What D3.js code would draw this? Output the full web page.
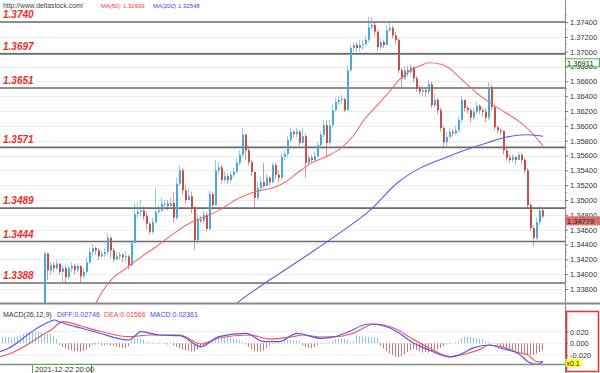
<!DOCTYPE html>
<html>
<head>
<meta charset="utf-8">
<script src="https://cdn.jsdelivr.net/npm/d3@7"></script>
<style>
  body { margin: 0; background: #fff; }
  svg { display: block; font-family: "Liberation Sans", Arial, sans-serif; }
</style>
</head>
<body>
<div id="chart"></div>
<script>

// hourly candles (open = previous close)
var firstOpen = 1.3358;
var closes = [
  1.3428,1.3405,1.3412,1.3408,1.3414,1.3403,1.3408,1.3396,1.3408,1.3411,
  1.3406,1.3411,1.3397,1.3403,1.3416,1.3430,1.3435,1.3432,1.3424,1.3427,
  1.3430,1.3449,1.3432,1.3420,1.3424,1.3426,1.3423,1.3424,1.3412,1.3442,
  1.3481,1.3484,1.3486,1.3478,1.3468,1.3457,1.3470,1.3484,1.3486,1.3495,
  1.3495,1.3492,1.3496,1.3476,1.3522,1.3540,1.3513,1.3500,1.3505,1.3489,
  1.3446,1.3473,1.3472,1.3480,1.3461,1.3508,1.3493,1.3540,1.3544,1.3527,
  1.3532,1.3527,1.3534,1.3538,1.3550,1.3561,1.3588,1.3567,1.3551,1.3538,
  1.3503,1.3516,1.3524,1.3519,1.3530,1.3524,1.3547,1.3534,1.3530,1.3558,
  1.3562,1.3581,1.3592,1.3589,1.3592,1.3577,1.3586,1.3550,1.3557,1.3554,
  1.3559,1.3574,1.3588,1.3601,1.3577,1.3601,1.3621,1.3632,1.3635,1.3636,
  1.3621,1.3675,1.3705,1.3709,1.3705,1.3709,1.3710,1.3716,1.3733,1.3736,
  1.3727,1.3706,1.3713,1.3709,1.3729,1.3732,1.3722,1.3716,1.3675,1.3664,
  1.3675,1.3673,1.3679,1.3664,1.3651,1.3646,1.3648,1.3646,1.3656,1.3628,
  1.3635,1.3621,1.3597,1.3578,1.3585,1.3592,1.3590,1.3594,1.3608,1.3635,
  1.3624,1.3621,1.3611,1.3619,1.3627,1.3621,1.3619,1.3611,1.3652,1.3625,
  1.3598,1.3594,1.3593,1.3567,1.3557,1.3554,1.3558,1.3554,1.3561,1.3554,
  1.3540,1.3493,1.3462,1.3449,1.3470,1.3486,1.34779
];
var highs = [
  1.3430,1.3428,1.3416,1.3416,1.3419,1.3415,1.3412,1.3411,1.3411,1.3416,
  1.3414,1.3415,1.3412,1.3408,1.3423,1.3435,1.3441,1.3437,1.3435,1.3432,
  1.3435,1.3455,1.3451,1.3435,1.3430,1.3430,1.3428,1.3431,1.3426,1.3446,
  1.3495,1.3497,1.3500,1.3491,1.3484,1.3470,1.3476,1.3516,1.3493,1.3503,
  1.3500,1.3500,1.3503,1.3511,1.3530,1.3547,1.3543,1.3519,1.3516,1.3511,
  1.3492,1.3481,1.3478,1.3486,1.3484,1.3513,1.3511,1.3554,1.3551,1.3547,
  1.3538,1.3536,1.3538,1.3543,1.3557,1.3567,1.3597,1.3589,1.3570,1.3554,
  1.3538,1.3524,1.3532,1.3550,1.3535,1.3532,1.3551,1.3550,1.3540,1.3563,
  1.3567,1.3586,1.3597,1.3594,1.3597,1.3594,1.3597,1.3589,1.3562,1.3561,
  1.3565,1.3578,1.3592,1.3608,1.3608,1.3608,1.3629,1.3638,1.3640,1.3642,
  1.3638,1.3681,1.3709,1.3713,1.3713,1.3716,1.3716,1.3721,1.3747,1.3747,
  1.3740,1.3729,1.3718,1.3716,1.3735,1.3739,1.3735,1.3727,1.3718,1.3678,
  1.3681,1.3681,1.3683,1.3681,1.3667,1.3655,1.3654,1.3651,1.3662,1.3659,
  1.3643,1.3638,1.3624,1.3600,1.3592,1.3597,1.3596,1.3600,1.3612,1.3640,
  1.3635,1.3627,1.3624,1.3624,1.3632,1.3629,1.3625,1.3624,1.3659,1.3656,
  1.3628,1.3600,1.3597,1.3594,1.3570,1.3561,1.3562,1.3559,1.3565,1.3563,
  1.3557,1.3543,1.3496,1.3466,1.3476,1.3492,1.3489
];
var lows = [
  1.3357,1.3392,1.3399,1.3402,1.3406,1.3399,1.3388,1.3388,1.3393,1.3403,
  1.3400,1.3403,1.3388,1.3395,1.3400,1.3414,1.3424,1.3426,1.3419,1.3422,
  1.3423,1.3426,1.3422,1.3416,1.3418,1.3419,1.3416,1.3416,1.3406,1.3410,
  1.3442,1.3476,1.3478,1.3473,1.3460,1.3454,1.3454,1.3468,1.3481,1.3484,
  1.3489,1.3486,1.3488,1.3470,1.3473,1.3519,1.3508,1.3495,1.3500,1.3482,
  1.3433,1.3441,1.3469,1.3468,1.3458,1.3459,1.3491,1.3492,1.3534,1.3522,
  1.3524,1.3522,1.3524,1.3530,1.3536,1.3547,1.3558,1.3554,1.3546,1.3532,
  1.3489,1.3500,1.3511,1.3516,1.3519,1.3520,1.3522,1.3528,1.3524,1.3527,
  1.3554,1.3558,1.3578,1.3584,1.3585,1.3573,1.3574,1.3530,1.3546,1.3550,
  1.3553,1.3557,1.3571,1.3584,1.3558,1.3574,1.3597,1.3619,1.3629,1.3629,
  1.3619,1.3621,1.3673,1.3700,1.3700,1.3700,1.3702,1.3708,1.3713,1.3729,
  1.3721,1.3700,1.3702,1.3705,1.3708,1.3727,1.3718,1.3710,1.3671,1.3651,
  1.3662,1.3667,1.3670,1.3659,1.3646,1.3642,1.3640,1.3639,1.3642,1.3624,
  1.3624,1.3616,1.3592,1.3570,1.3570,1.3584,1.3585,1.3588,1.3592,1.3604,
  1.3619,1.3617,1.3605,1.3608,1.3616,1.3616,1.3613,1.3605,1.3608,1.3621,
  1.3594,1.3590,1.3588,1.3561,1.3553,1.3550,1.3551,1.3548,1.3554,1.3548,
  1.3536,1.3489,1.3458,1.3438,1.3446,1.3466,1.3476
];

// moving averages as [candle index, value]
var ma50 = [
  [15,1.3341],[17,1.3361],[22,1.3392],[27,1.3408],[32,1.3423],[37,1.3437],
  [43,1.3455],[47,1.3466],[53,1.3477],[58,1.3486],[63,1.3499],[70,1.3511],
  [77,1.3518],[80,1.3524],[84,1.3536],[88,1.3548],[95,1.3561],[99,1.3571],
  [103,1.3588],[106,1.3606],[111,1.3629],[115,1.3647],[118,1.3662],[122,1.3675],
  [125,1.3681],[128,1.3685],[132,1.3683],[135,1.3677],[139,1.3662],[144,1.3644],
  [148,1.3632],[153,1.3619],[158,1.3606],[162,1.3592],[166,1.3573]
];
var ma200 = [
  [58,1.3341],[64,1.3361],[85,1.3419],[98,1.3455],[108,1.3485],[118,1.3525],
  [125,1.3543],[134,1.3558],[142,1.3570],[148,1.3578],[154,1.3585],[160,1.3588],
  [166,1.3586]
];

// horizontal levels
var levels = [1.3740, 1.3697, 1.3651, 1.3571, 1.3489, 1.3444, 1.3388];

// MACD panel
var diffLine = [
  [-15,-0.0144],[-12,-0.0080],[-5,0.0176],[-2,0.0279],[2,0.0381],[3,0.0398],
  [5,0.0364],[8,0.0313],[12,0.0261],[18,0.0176],[28,0.0056],[32,0.0198],
  [38,0.0142],[45,0.0130],[52,-0.0058],[58,0.0113],[67,0.0171],[73,0.0027],
  [78,0.0027],[84,0.0171],[92,0.0085],[95,0.0096],[100,0.0171],[108,0.0330],
  [115,0.0261],[118,0.0176],[123,0.0],[128,-0.0115],[135,-0.0234],[138,-0.0200],
  [143,-0.0075],[148,-0.0029],[152,-0.0085],[158,-0.0183],[161,-0.0314],
  [164,-0.0359],[166,-0.0314]
];
var deaLine = [
  [-15,-0.0229],[-12,-0.0183],[-5,0.0005],[-2,0.0108],[2,0.0227],[6,0.0369],
  [12,0.0296],[18,0.0210],[28,0.0113],[35,0.0142],[45,0.0142],[52,-0.0012],
  [58,0.0091],[68,0.0142],[75,0.0073],[82,0.0108],[86,0.0142],[92,0.0108],
  [97,0.0113],[102,0.0159],[110,0.0330],[117,0.0244],[122,0.0091],[128,-0.0080],
  [135,-0.0229],[140,-0.0183],[145,-0.0103],[148,-0.0029],[152,-0.0058],
  [158,-0.0161],[161,-0.0200],[164,-0.0314],[166,-0.0314]
];
var histStart = -15;
var macdHist = [
  0.009,0.010,0.011,0.011,0.010,0.011,0.012,
  0.014,0.016,0.018,0.019,0.020,0.019,0.020,
  0.018,0.017,0.016,0.015,0.013,0.008,
  -0.003,-0.006,-0.009,-0.011,-0.012,-0.013,-0.014,-0.014,-0.013,-0.011,-0.007,
  -0.003,-0.002,-0.001,-0.003,-0.003,-0.002,
  -0.004,-0.005,-0.006,-0.007,-0.008,-0.008,-0.005,
  0.005,0.008,0.009,0.008,0.006,
  0.002,0.001,-0.001,0.001,-0.001,0.001,-0.001,-0.002,0.001,-0.003,
  -0.006,-0.009,-0.011,-0.012,-0.013,-0.014,-0.014,-0.011,
  -0.007,-0.004,-0.002,0.002,0.005,
  0.008,0.010,0.011,0.011,0.010,0.009,0.008,0.007,0.005,
  0.002,-0.002,
  -0.006,-0.010,-0.013,-0.014,-0.014,-0.012,-0.008,-0.004,
  -0.001,0.001,-0.001,0.002,
  0.004,0.005,0.006,0.005,0.005,0.004,
  -0.003,-0.006,-0.008,-0.008,-0.006,
  -0.003,0.001,-0.001,0.001,0.002,0.004,
  0.007,0.008,0.009,0.008,0.006,
  0.002,0.004,
  0.014,0.013,0.012,0.012,0.011,0.010,0.010,0.009,
  -0.004,-0.009,-0.013,-0.017,-0.020,-0.023,-0.024,-0.022,-0.019,-0.015,-0.012,
  -0.010,-0.012,-0.014,-0.016,-0.015,-0.016,-0.014,-0.012,-0.010,-0.008,-0.005,
  -0.002,-0.001,0.001,0.002,
  0.005,0.009,0.011,0.011,0.011,0.010,0.009,0.008,0.007,0.004,0.002,
  0.001,-0.001,
  -0.003,-0.005,-0.006,-0.008,-0.010,-0.012,-0.013,-0.015,-0.017,-0.018,
  -0.019,-0.020,-0.020,-0.018,-0.015,-0.012
];

var priceTicks = [1.374,1.372,1.370,1.368,1.366,1.364,1.362,1.360,1.358,1.356,
                  1.354,1.352,1.350,1.348,1.346,1.344,1.342,1.340,1.338];
var macdTicks = [0.02, 0, -0.02];
var lastPrice = 1.34779, markPrice = 1.36911;
var dateLabel = "2021-12-22 20:00";

// layout
var W = 600, H = 373, plotR = 565, mainB = 303;
var macdTop = 305, macdB = 364;

var svg = d3.select("#chart").append("svg")
    .attr("width", W)
    .attr("height", H);

var x = d3.scaleLinear().domain([-15, 173.33]).range([0, plotR]);
var y = d3.scaleLinear().domain([1.33611, 1.37697]).range([mainB, 0]);
var ym = d3.scaleLinear().domain([-0.04, 0.04]).range([366.7, 319.9]);

var defs = svg.append("defs");
defs.append("clipPath").attr("id", "clipMain")
  .append("rect").attr("x", 0).attr("y", 0).attr("width", plotR).attr("height", mainB);
defs.append("clipPath").attr("id", "clipMacd")
  .append("rect").attr("x", 0).attr("y", macdTop).attr("width", plotR).attr("height", macdB - macdTop);

// grid
svg.append("g").selectAll("line")
    .data(priceTicks)
  .enter().append("line")
    .attr("x1", 0).attr("x2", plotR)
    .attr("y1", function(d) { return Math.round(y(d)) + 0.5; })
    .attr("y2", function(d) { return Math.round(y(d)) + 0.5; })
    .attr("stroke", "#ededed");

// level lines
svg.append("g").selectAll("line")
    .data(levels)
  .enter().append("line")
    .attr("x1", 0).attr("x2", plotR)
    .attr("y1", function(d) { return y(d); })
    .attr("y2", function(d) { return y(d); })
    .attr("stroke", "#6a6a6a")
    .attr("stroke-width", 1.6);

svg.append("g").selectAll("text")
    .data(levels)
  .enter().append("text")
    .attr("x", 3)
    .attr("y", function(d) { return y(d) - 4; })
    .attr("fill", "#f02a2a")
    .style("font-size", "10px")
    .style("font-weight", "bold")
    .style("font-style", "italic")
    .text(function(d) { return d.toFixed(4); });

// candles
var candles = closes.map(function(c, i) {
  var o = i ? closes[i - 1] : firstOpen;
  return { i: i, o: o, c: c, h: Math.max(highs[i], o, c), l: Math.min(lows[i], o, c) };
});
var upCol = "#49a9dd", dnCol = "#c4504c";

var cg = svg.append("g").attr("clip-path", "url(#clipMain)");
cg.selectAll(".wick")
    .data(candles)
  .enter().append("line")
    .attr("class", "wick")
    .attr("x1", function(d) { return x(d.i) - 0.5; })
    .attr("x2", function(d) { return x(d.i) - 0.5; })
    .attr("y1", function(d) { return y(d.h); })
    .attr("y2", function(d) { return y(d.l); })
    .attr("stroke", function(d) { return d.c >= d.o ? upCol : dnCol; })
    .attr("stroke-opacity", 0.6);
cg.selectAll(".body")
    .data(candles)
  .enter().append("rect")
    .attr("class", "body")
    .attr("x", function(d) { return x(d.i) - 1; })
    .attr("width", 2)
    .attr("y", function(d) { return y(Math.max(d.o, d.c)); })
    .attr("height", function(d) { return Math.max(1, Math.abs(y(d.o) - y(d.c))); })
    .attr("fill", function(d) { return d.c >= d.o ? upCol : dnCol; });

// moving averages
var maLine = d3.line()
    .x(function(d) { return x(d[0]); })
    .y(function(d) { return y(d[1]); })
    .curve(d3.curveMonotoneX);
cg.append("path").datum(ma50)
    .attr("d", maLine).attr("fill", "none")
    .attr("stroke", "#f26a6a").attr("stroke-width", 1.1);
cg.append("path").datum(ma200)
    .attr("d", maLine).attr("fill", "none")
    .attr("stroke", "#5a5af0").attr("stroke-width", 1.1);

// price axis
var axR = d3.axisRight(y)
    .tickValues(priceTicks)
    .tickSize(3)
    .tickSizeOuter(0)
    .tickFormat(d3.format(".5f"));
var ga = svg.append("g")
    .attr("transform", "translate(" + plotR + ",0)")
    .call(axR);
ga.selectAll("text").style("font-size", "7.5px").attr("fill", "#333").attr("x", 5);
ga.selectAll("line").attr("stroke", "#777");
ga.select(".domain").attr("stroke", "#888");

// minor ticks
svg.append("g").selectAll("line")
    .data(priceTicks)
  .enter().append("line")
    .attr("x1", plotR).attr("x2", plotR + 2)
    .attr("y1", function(d) { return y(d + 0.001); })
    .attr("y2", function(d) { return y(d + 0.001); })
    .attr("stroke", "#999");

// price boxes
function priceBox(p, fill, stroke) {
  var yy = y(p);
  svg.append("rect")
      .attr("x", plotR + 0.5).attr("y", yy + 0.5)
      .attr("width", 34).attr("height", 8)
      .attr("fill", fill).attr("stroke", stroke);
  svg.append("text")
      .attr("x", plotR + 2).attr("y", yy + 7.3)
      .attr("fill", "#222")
      .style("font-size", "7.5px")
      .text(p.toFixed(5));
}
priceBox(markPrice, "#fff", "#3cb83c");
priceBox(lastPrice, "#dc6e6e", "#dc6e6e");

// header
svg.append("text").attr("x", 3).attr("y", 7.5)
    .style("font-size", "6.8px").attr("fill", "#444")
    .text("http://www.deltastock.com/");
var hd = svg.append("text").attr("y", 7.5).style("font-size", "6px");
hd.append("tspan").attr("x", 101).attr("fill", "#f03c3c").text("MA(50)");
hd.append("tspan").attr("x", 123).attr("fill", "#f03c3c").text("1.32609");
hd.append("tspan").attr("x", 153).attr("fill", "#4444ee").text("MA(200)");
hd.append("tspan").attr("x", 178).attr("fill", "#4444ee").text("1.32548");

// panel separators
svg.append("line")
    .attr("x1", 0).attr("x2", W).attr("y1", 303.5).attr("y2", 303.5)
    .attr("stroke", "#8a8a8a").attr("stroke-width", 2);
svg.append("line")
    .attr("x1", 0).attr("x2", plotR).attr("y1", macdB + 0.5).attr("y2", macdB + 0.5)
    .attr("stroke", "#8a8a8a").attr("stroke-width", 1.5);
svg.append("line")
    .attr("x1", plotR + 0.5).attr("x2", plotR + 0.5).attr("y1", mainB).attr("y2", H)
    .attr("stroke", "#888");

// MACD grid
svg.append("g").selectAll("line")
    .data(macdTicks)
  .enter().append("line")
    .attr("x1", 0).attr("x2", plotR)
    .attr("y1", function(d) { return ym(d); })
    .attr("y2", function(d) { return ym(d); })
    .attr("stroke", "#efefef");

var mg = svg.append("g").attr("clip-path", "url(#clipMacd)");
mg.selectAll(".hist")
    .data(macdHist)
  .enter().append("line")
    .attr("class", "hist")
    .attr("x1", function(d, k) { return x(histStart + k) - 0.5; })
    .attr("x2", function(d, k) { return x(histStart + k) - 0.5; })
    .attr("y1", ym(0))
    .attr("y2", function(d) { return ym(d); })
    .attr("stroke", function(d) { return d >= 0 ? "#8ac6e6" : "#c67878"; });

var macdLine = d3.line()
    .x(function(d) { return x(d[0]); })
    .y(function(d) { return ym(d[1]); })
    .curve(d3.curveMonotoneX);
mg.append("path").datum(deaLine)
    .attr("d", macdLine).attr("fill", "none")
    .attr("stroke", "#f25a5a").attr("stroke-width", 1.2);
mg.append("path").datum(diffLine)
    .attr("d", macdLine).attr("fill", "none")
    .attr("stroke", "#5656f2").attr("stroke-width", 1.2);

// MACD title
var mt = svg.append("text").attr("y", 317).style("font-size", "7px");
mt.append("tspan").attr("x", 3).attr("fill", "#333").text("MACD(26,12,9)");
mt.append("tspan").attr("x", 57).attr("fill", "#4a4af0").text("DIFF:0.02746");
mt.append("tspan").attr("x", 104).attr("fill", "#f04a4a").text("DEA:0.01566");
mt.append("tspan").attr("x", 150).attr("fill", "#4a4af0").text("MACD:0.02361");

// MACD axis
var axM = d3.axisRight(ym)
    .tickValues(macdTicks)
    .tickSize(3)
    .tickFormat(function(d) { return d.toFixed(3); });
var gm = svg.append("g")
    .attr("transform", "translate(" + plotR + ",0)")
    .call(axM);
gm.select(".domain").remove();
gm.selectAll("text").style("font-size", "7.5px").attr("fill", "#333").attr("x", 5);
gm.selectAll("line").attr("stroke", "#777");

// red frame and scale box
svg.append("rect")
    .attr("x", 566.5).attr("y", 311.5).attr("width", 32).attr("height", 60)
    .attr("fill", "none").attr("stroke", "#f03030").attr("stroke-width", 1.5);
svg.append("rect")
    .attr("x", plotR + 0.5).attr("y", 359).attr("width", 16).attr("height", 8)
    .attr("fill", "#ffff33");
svg.append("text")
    .attr("x", plotR + 1.5).attr("y", 366).attr("fill", "#222")
    .style("font-size", "7px").text("x0.1");

// date label
svg.append("rect")
    .attr("x", 32.5).attr("y", 364.5).attr("width", 59).attr("height", 9)
    .attr("fill", "#fff").attr("stroke", "#4cae4c");
svg.append("text")
    .attr("x", 35).attr("y", 372).attr("fill", "#333")
    .style("font-size", "7.5px").text(dateLabel);

</script>
</body>
</html>
